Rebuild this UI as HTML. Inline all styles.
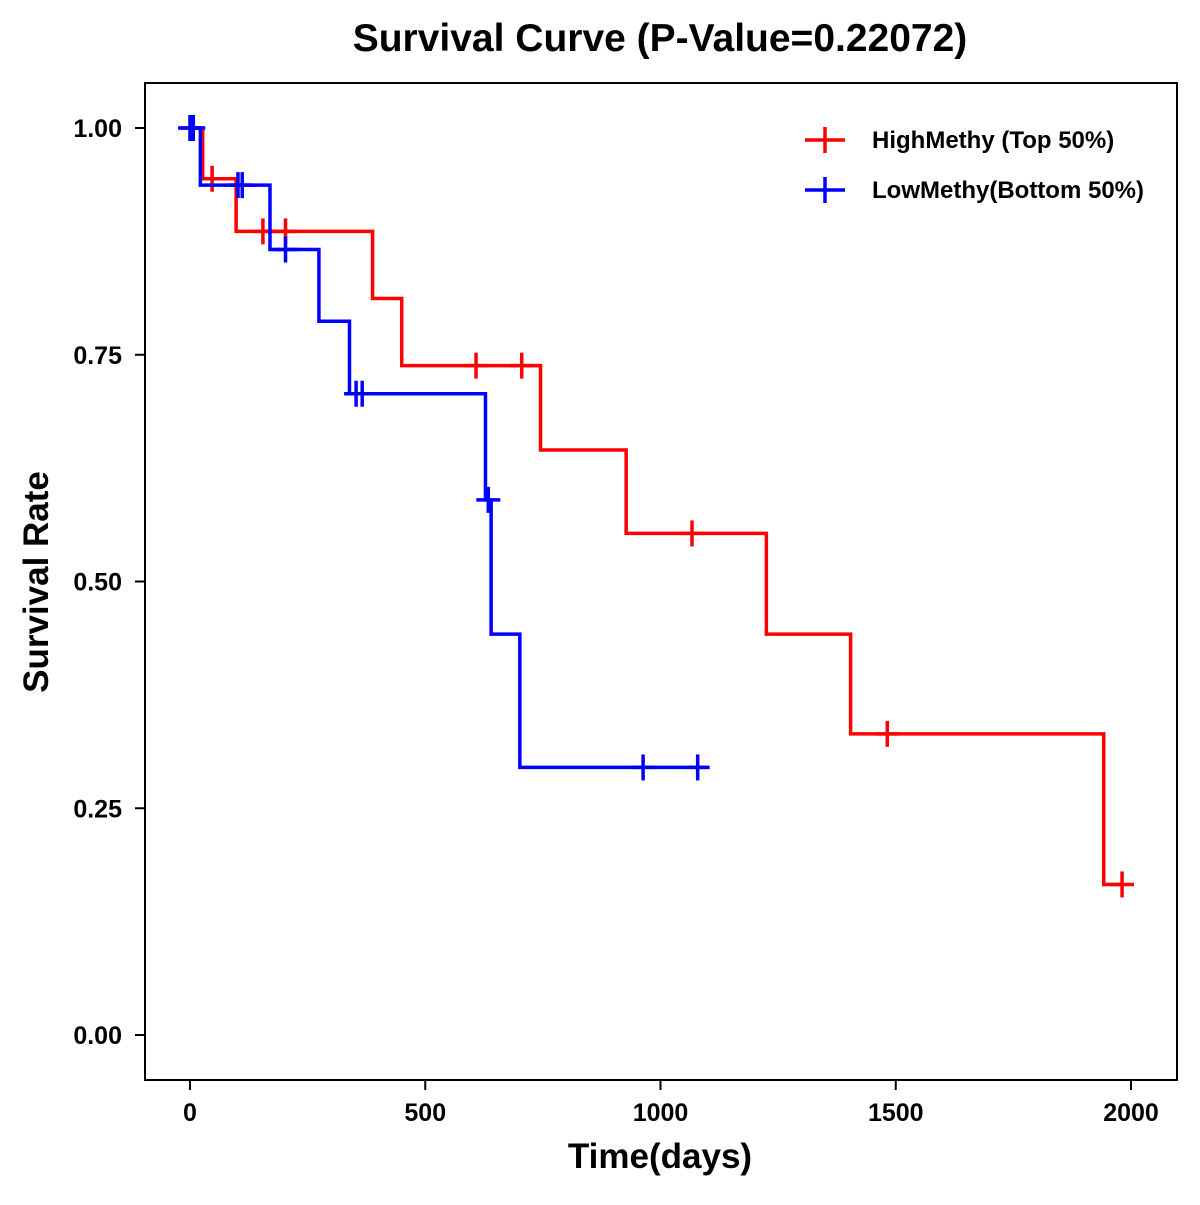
<!DOCTYPE html>
<html><head><meta charset="utf-8"><style>
body{margin:0;background:#fff;}
svg text{font-family:"Liberation Sans",Arial,sans-serif;font-weight:bold;}
</style></head><body>
<svg width="1200" height="1200" viewBox="0 0 1200 1200">
<rect width="1200" height="1200" fill="#fff"/>
<text x="660" y="51" text-anchor="middle" font-size="39">Survival Curve (P-Value=0.22072)</text>
<rect x="145" y="83" width="1032" height="997" fill="none" stroke="#000" stroke-width="2"/>
<g id="axes"></g>
<g id="series"></g>
<text x="660" y="1168" text-anchor="middle" font-size="35">Time(days)</text>
<text transform="translate(48,582) rotate(-90)" text-anchor="middle" font-size="35">Survival Rate</text>
<g>
<g>
<line x1="805" y1="140" x2="845" y2="140" stroke="#f00" stroke-width="3.5"/><line x1="825" y1="127" x2="825" y2="153" stroke="#f00" stroke-width="3.5"/>
<text x="872" y="148" font-size="24">HighMethy (Top 50%)</text></g>
<g>
<line x1="805" y1="190" x2="845" y2="190" stroke="#00f" stroke-width="3.5"/><line x1="825" y1="177" x2="825" y2="203" stroke="#00f" stroke-width="3.5"/>
<text x="872" y="198" font-size="24">LowMethy(Bottom 50%)</text></g>
</g>
</svg>
<script>
const xTicks=[0,500,1000,1500,2000];
const yTicks=[0,0.25,0.5,0.75,1.0];
const yTickLabels=["0.00","0.25","0.50","0.75","1.00"];
const highTimes=[0,27,98,388,450,745,927,1225,1404,1942,1975];
const highSurv=[1.0,0.944,0.886,0.812,0.738,0.645,0.553,0.442,0.332,0.166,0.166];
const highCensor=[47,155,203,608,705,1067,1482,1981];
const highCensorSurv=[0.944,0.886,0.886,0.738,0.738,0.553,0.332,0.166];
const lowTimes=[0,22,170,274,339,628,640,701,1100];
const lowSurv=[1.0,0.937,0.866,0.787,0.707,0.590,0.442,0.295,0.295];
const lowCensor=[0,7,102,111,203,353,366,634,963,1079];
const lowCensorSurv=[1.0,1.0,0.937,0.937,0.866,0.707,0.707,0.590,0.295,0.295];
const X=d=>190+d*0.4705, Y=v=>1035-v*907;
const NS="http://www.w3.org/2000/svg";
function mk(tag,attrs,parent){const e=document.createElementNS(NS,tag);for(const k in attrs)e.setAttribute(k,attrs[k]);parent.appendChild(e);return e;}
const ax=document.getElementById('axes');
xTicks.forEach(t=>{
 const l=mk('line',{x1:X(t),x2:X(t),y1:1080,y2:1090,stroke:'#000','stroke-width':2},ax);
 
 
 const tx=mk('text',{x:X(t),y:1121,'text-anchor':'middle','font-size':25},ax);tx.textContent=t;
 
 
});
yTicks.forEach((t,i)=>{
 const l=mk('line',{x1:135,x2:145,y1:Y(t),y2:Y(t),stroke:'#000','stroke-width':2},ax);
 
 
 const tx=mk('text',{x:122,y:Y(t)+9,'text-anchor':'end','font-size':25},ax);tx.textContent=yTickLabels[i];
 
 
});
const sg=document.getElementById('series');
function draw(times,surv,ct,cs,color,name){
 let d='M'+X(times[0])+','+Y(surv[0]);
 for(let i=1;i<times.length;i++){d+=' H'+X(times[i])+' V'+Y(surv[i]);}
 const p=mk('path',{d:d,fill:'none',stroke:color,'stroke-width':3.5},sg);
 
 
 ct.forEach((t,i)=>{
  const g=mk('g',{stroke:color,'stroke-width':3.5},sg);
  
  
  mk('line',{x1:X(t)-12,x2:X(t)+12,y1:Y(cs[i]),y2:Y(cs[i])},g);
  mk('line',{x1:X(t),x2:X(t),y1:Y(cs[i])-13,y2:Y(cs[i])+13},g);
 });
}
draw(highTimes,highSurv,highCensor,highCensorSurv,'#f00','high-methy');
draw(lowTimes,lowSurv,lowCensor,lowCensorSurv,'#00f','low-methy');
</script>
</body></html>
